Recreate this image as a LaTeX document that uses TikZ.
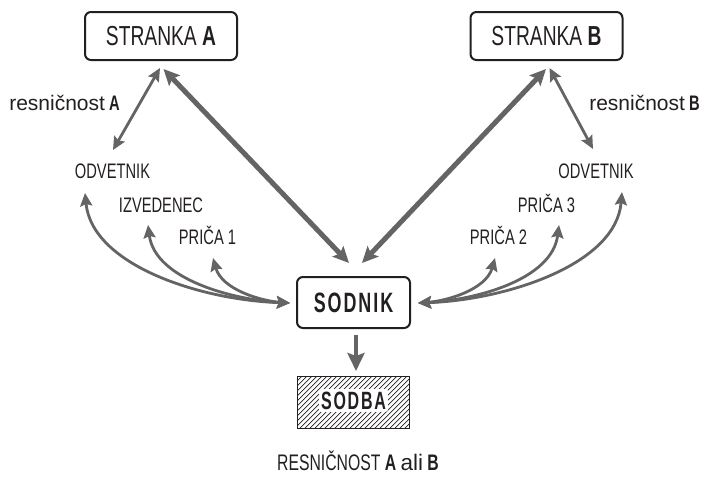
\documentclass[tikz,border=0pt]{standalone}
\usepackage{fontspec}
\setmainfont[FakeStretch=0.70]{Liberation Sans}
\newfontfamily\widefont{Liberation Sans}
\newfontfamily\spacedfont[FakeStretch=0.64,LetterSpace=7]{Liberation Sans}
\usetikzlibrary{arrows.meta}
\definecolor{arr}{HTML}{646464}
\definecolor{ink}{HTML}{231F20}
\begin{document}
\begin{tikzpicture}[x=1pt,y=-1pt,
  box/.style={draw=ink, line width=2pt, rounded corners=6pt, minimum width=152pt, minimum height=48pt, inner sep=0pt, text=ink},
  lbl/.style={font=\fontsize{21}{24}\selectfont, text=ink, inner sep=0pt, anchor=base},
  thinarr/.style={draw=arr, line width=2.8pt, {Stealth[length=13pt,width=12pt,inset=2pt]}-{Stealth[length=13pt,width=12pt,inset=2pt]}},
  thickarr/.style={draw=arr, line width=5pt, {Stealth[length=16pt,width=15pt,inset=3pt]}-{Stealth[length=16pt,width=15pt,inset=3pt]}},
  curvarr/.style={draw=arr, line width=2.8pt, {Stealth[length=13pt,width=12pt,inset=2pt]}-{Stealth[length=13pt,width=12pt,inset=2pt]}},
  sodbafont/.style={font=\spacedfont\bfseries\fontsize{25}{27}\selectfont, anchor=base, text=ink, fill=white, rounded corners=2pt, inner xsep=2pt, inner ysep=2.5pt},
]
\useasboundingbox (0,0) rectangle (702,480);

% boxes
\node[box, font=\fontsize{27.5}{30}\selectfont] (sA) at (161,36) {STRANKA \textbf{A}};
\node[box, font=\fontsize{27.5}{30}\selectfont] (sB) at (546.5,36) {STRANKA \textbf{B}};
\node[box, minimum width=113pt, minimum height=51pt, font=\spacedfont\bfseries\fontsize{28}{30}\selectfont] (sod) at (353.5,302.5) {SODNIK};

% labels
\node[lbl] (odvA) at (112.5,178) {ODVETNIK};
\node[lbl] (izv) at (161,212) {IZVEDENEC};
\node[lbl] (p1) at (207.5,244) {PRIČA 1};
\node[lbl] (odvB) at (596,178) {ODVETNIK};
\node[lbl] (p3) at (546.5,212) {PRIČA 3};
\node[lbl] (p2) at (498.5,244) {PRIČA 2};
\node[lbl] (resA) at (64.5,110) {{\widefont resničnost} \textbf{A}};
\node[lbl] (resB) at (644.5,110) {{\widefont resničnost} \textbf{B}};
\node[lbl, font=\fontsize{22.5}{26}\selectfont] (res) at (358,470) {RESNIČNOST \textbf{A} {\widefont ali} \textbf{B}};

% SODBA hatched box
\node[minimum width=111pt, minimum height=51pt, inner sep=0pt] (sodba) at (353.5,402.5) {};
\begin{scope}
  \clip (sodba.south west) rectangle (sodba.north east);
  \foreach \i in {0,...,34} {
    \draw[ink, line width=0.7pt] (238+\i*5,430) -- (238+\i*5+55,375);
  }
\end{scope}
\draw[draw=ink, line width=1.3pt] (sodba.south west) rectangle (sodba.north east);
\node[sodbafont] (sodbatxt) at (353.5,409) {SODBA};

% named end points
\coordinate (aTop) at (160,68);
\coordinate (aTopK) at (163.5,69);
\coordinate (aOdv) at (113,150);
\coordinate (bTop) at (549.5,68);
\coordinate (bTopK) at (546,69);
\coordinate (bOdv) at (593,149);
\coordinate (sodTL) at (349,263);
\coordinate (sodTR) at (362,263);
\coordinate (sodL) at (290,303);
\coordinate (sodR) at (418,303);
\coordinate (tOdvA) at (85,193);
\coordinate (tIzv) at (148,225);
\coordinate (tP1) at (213,258);
\coordinate (tP2) at (495,258);
\coordinate (tP3) at (559,225);
\coordinate (tOdvB) at (622,192);
\coordinate (dTop) at (356,335);
\coordinate (dBot) at (356,371);

% arrows
\draw[thickarr] (aTopK) -- (sodTL);
\draw[thickarr] (bTopK) -- (sodTR);
\draw[thinarr] (aTop) -- (aOdv);
\draw[thinarr] (bTop) -- (bOdv);

\draw[curvarr] (tOdvA) .. controls (92,265) and (200,300) .. (sodL);
\draw[curvarr] (tIzv) .. controls (155,280) and (235,300) .. (sodL);
\draw[curvarr] (tP1) .. controls (222,290) and (262,301) .. (sodL);
\draw[curvarr] (tP2) .. controls (486,290) and (446,301) .. (sodR);
\draw[curvarr] (tP3) .. controls (552,280) and (475,300) .. (sodR);
\draw[curvarr] (tOdvB) .. controls (616,265) and (505,300) .. (sodR);

\draw[draw=arr, line width=4pt, -{Stealth[length=18pt,width=17pt,inset=3pt]}] (dTop) -- (dBot);
\end{tikzpicture}
\end{document}
